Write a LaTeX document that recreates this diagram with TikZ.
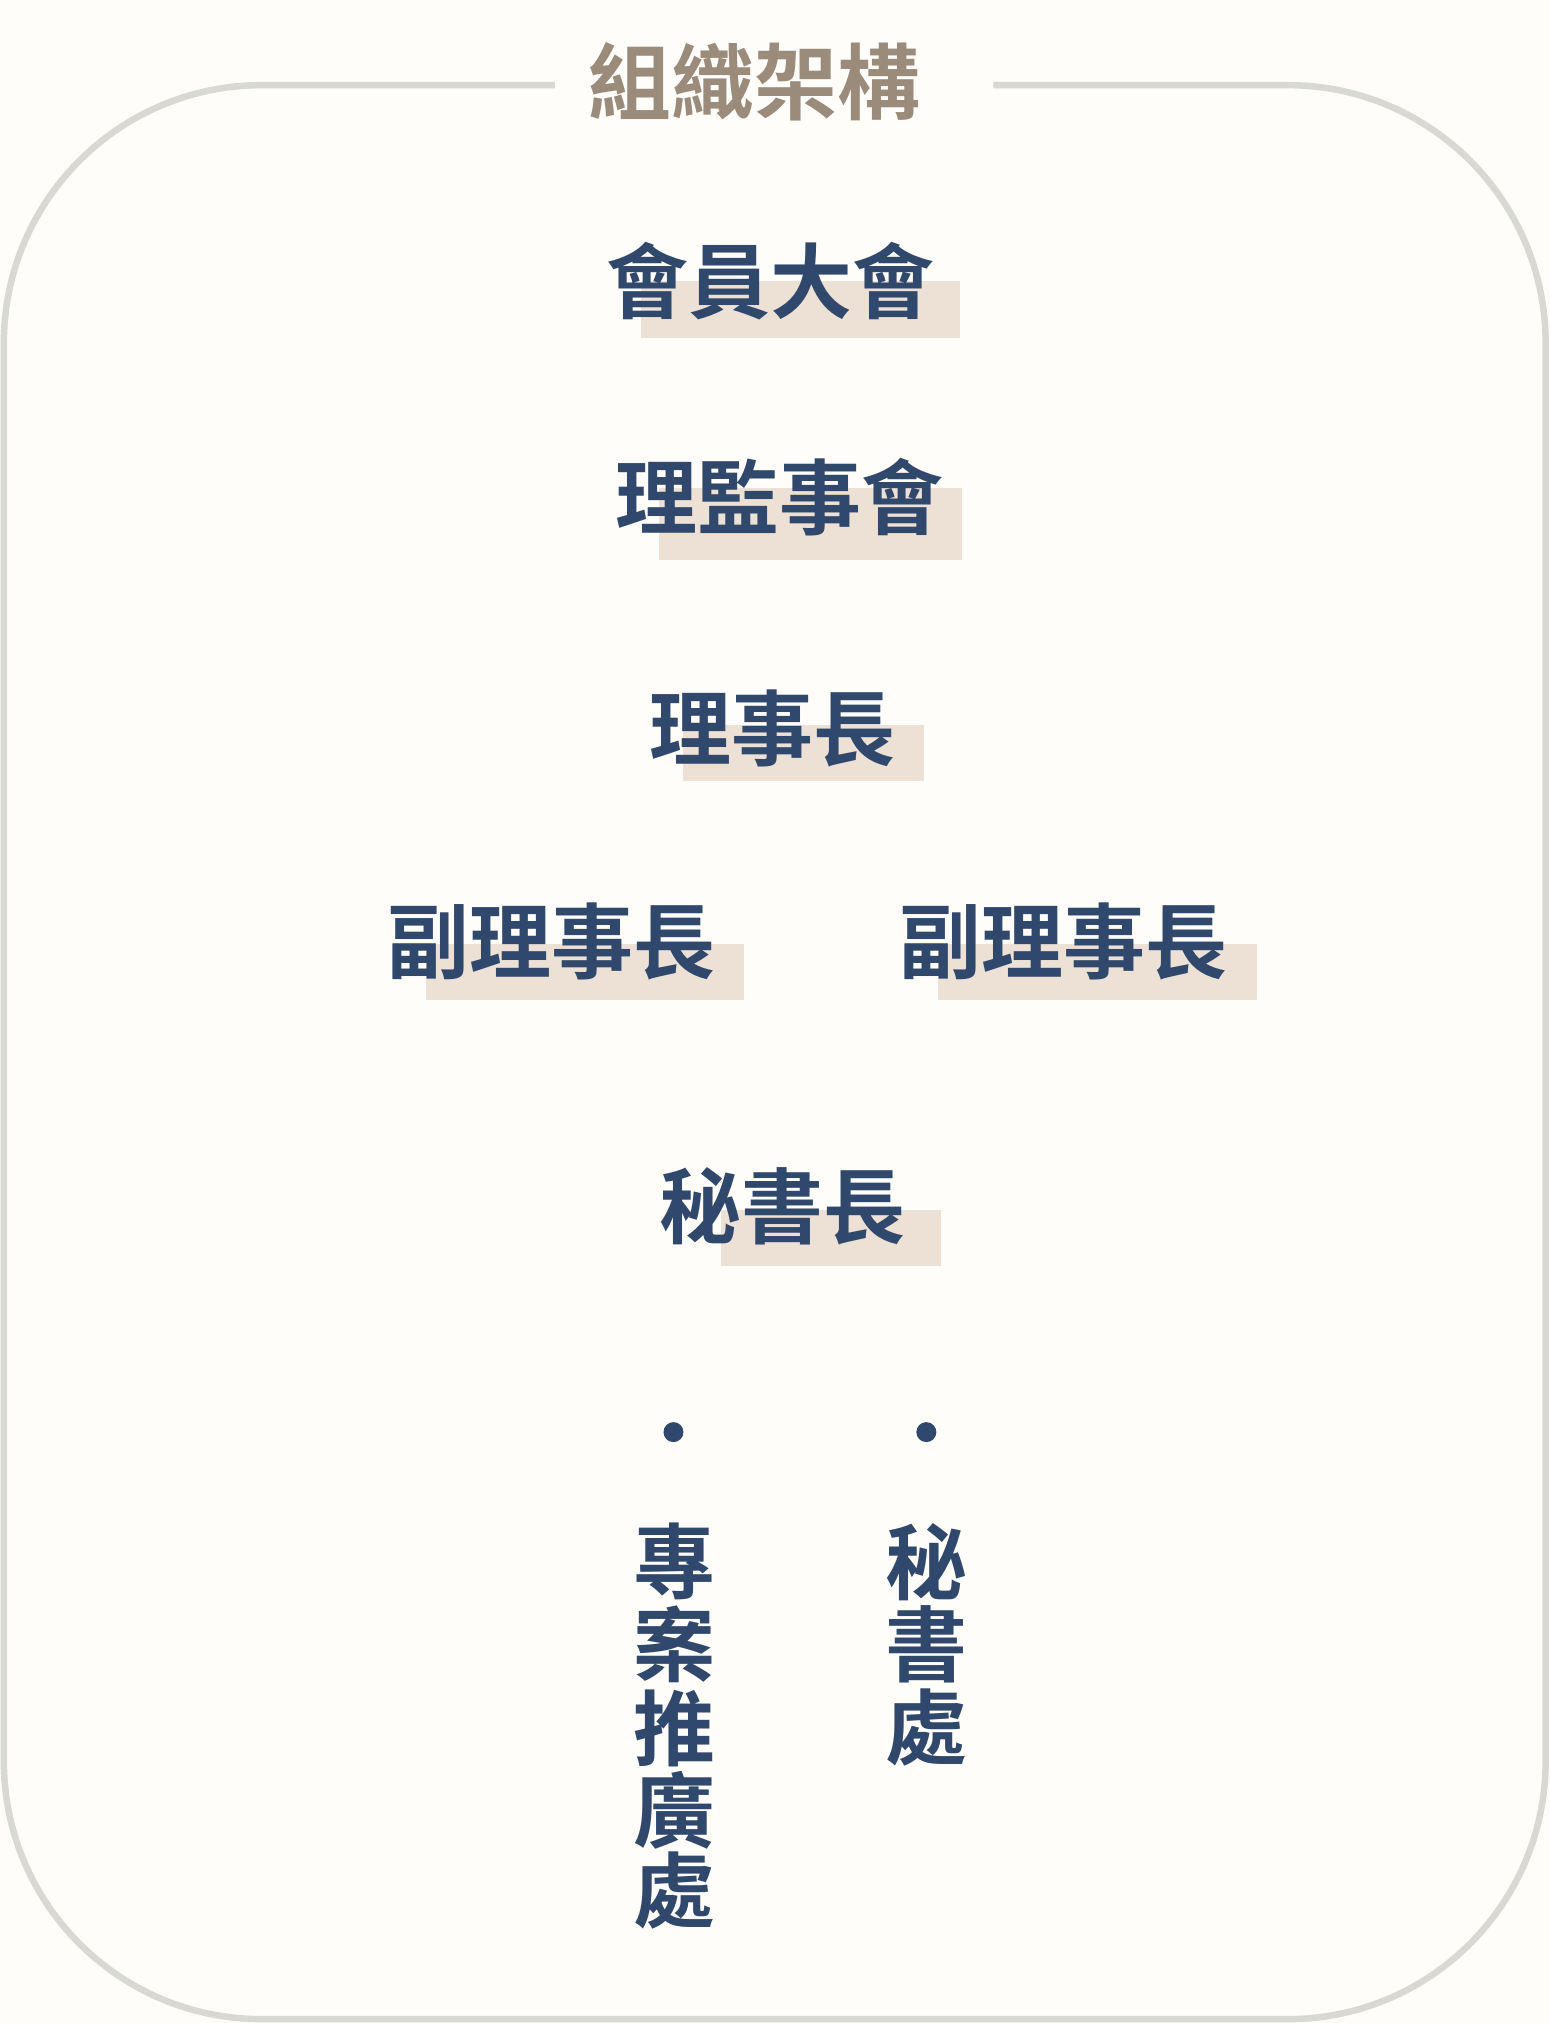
\documentclass[tikz,border=0pt]{standalone}
\usepackage{fontspec}
\newfontfamily\cjk{Noto Sans CJK TC Bold}
\definecolor{navy}{HTML}{30486B}
\definecolor{taupe}{HTML}{9B8B7B}
\definecolor{hlc}{HTML}{EDE0D5}
\definecolor{bgc}{HTML}{FEFDF9}
\definecolor{framec}{HTML}{D9D9D3}
\tikzset{
  lbl/.style={font=\cjk\fontsize{82}{82}\selectfont, text=navy, inner sep=0pt, anchor=base},
  ttl/.style={font=\cjk\fontsize{83}{83}\selectfont, text=taupe, inner sep=0pt, anchor=base},
  hl/.style={fill=hlc, draw=none},
  frame/.style={draw=framec, line width=6.5pt, rounded corners=258pt},
  dotmark/.style={circle, fill=navy, inner sep=0pt, minimum size=20pt},
}
\begin{document}
\begin{tikzpicture}[x=1.2906pt,y=-1.2906pt]
\useasboundingbox (0,0) rectangle (1201,1568);
\fill[bgc] (0,0) rectangle (1201,1568);
% frame
\draw[frame] (430,66) -- (3,66) -- (3,1565) -- (1198,1565) -- (1198,66) -- (770,66);
% title
\node[ttl] (title) at (585,88) {組織架構};
% highlights
\fill[hl] (497,218) rectangle (744,262);
\fill[hl] (511,378) rectangle (746,434);
\fill[hl] (529,562) rectangle (716,605);
\fill[hl] (330,732) rectangle (577,775);
\fill[hl] (727,732) rectangle (974,775);
\fill[hl] (559,938) rectangle (729,981);
% labels
\node[lbl] (general) at (597,242) {會員大會};
\node[lbl] (board) at (604,410) {理監事會};
\node[lbl] (chair) at (598.5,589) {理事長};
\node[lbl] (vice1) at (427.5,754) {副理事長};
\node[lbl] (vice2) at (824,754) {副理事長};
\node[lbl] (secgen) at (606.5,959) {秘書長};
% dots
\node[dotmark] (dot1) at (522,1110) {};
\node[dotmark] (dot2) at (718,1110) {};
% vertical texts
\foreach \c/\yy [count=\i] in {專/1210,案/1275,推/1340,廣/1403,處/1465}
  \node[lbl] (p\i) at (523,\yy+24) {\c};
\foreach \c/\yy [count=\i] in {秘/1211,書/1275,處/1339}
  \node[lbl] (s\i) at (718,\yy+24) {\c};
\end{tikzpicture}
\end{document}
